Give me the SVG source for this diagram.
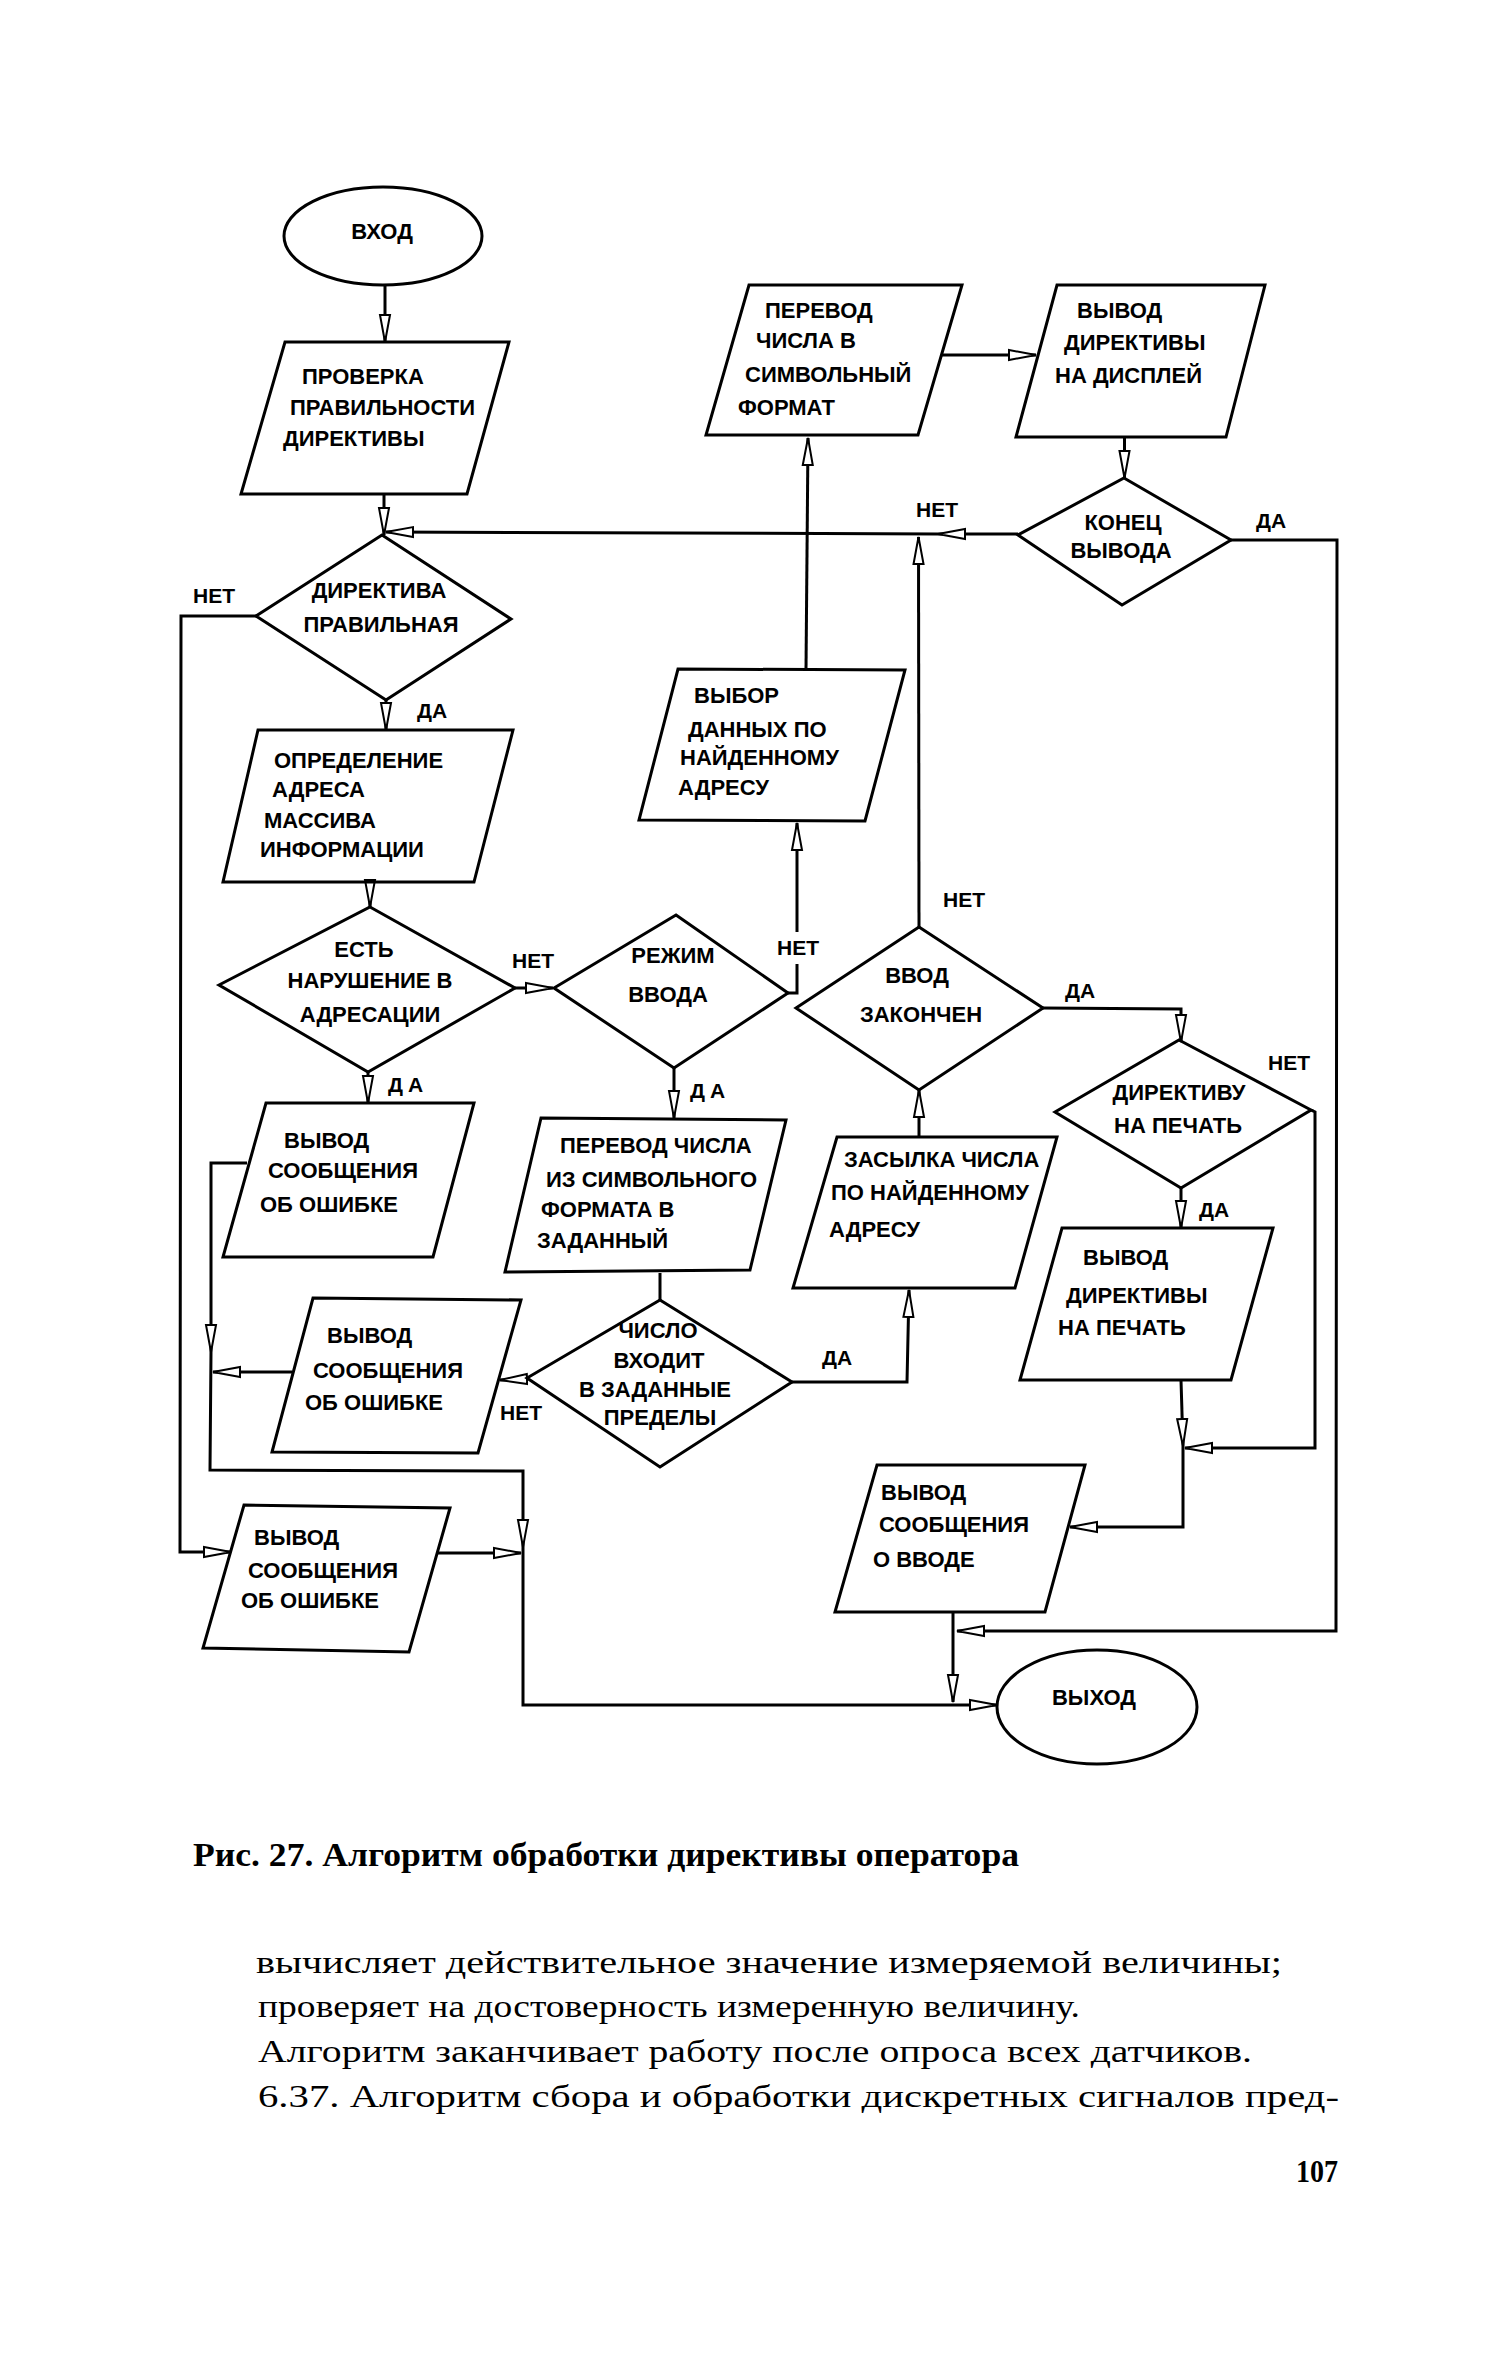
<svg xmlns="http://www.w3.org/2000/svg" width="1501" height="2363" viewBox="0 0 1501 2363">
<style>
.s{fill:none;stroke:#000;stroke-width:3;stroke-linejoin:miter}
.t{font-family:"Liberation Sans",Arial,sans-serif;font-weight:bold;font-size:22px;fill:#000}
.c{text-anchor:middle}
.l{font-family:"Liberation Sans",Arial,sans-serif;font-weight:bold;font-size:21px;fill:#000;text-anchor:middle}
.cap{font-family:"Liberation Serif","Times New Roman",serif;font-weight:bold;font-size:33px;fill:#000}
.b{font-family:"Liberation Serif","Times New Roman",serif;font-size:31px;fill:#000}
.a{fill:none;stroke:#000;stroke-width:3;marker-end:url(#ah)}
</style>
<defs>
<marker id="ah" markerUnits="userSpaceOnUse" markerWidth="32" markerHeight="14" refX="28" refY="7" orient="auto">
<path d="M1,2 L28,7 L1,12 Z" fill="#fff" stroke="#000" stroke-width="2"/>
</marker>
</defs>
<rect width="1501" height="2363" fill="#fff"/>

<g id="connectors">
<path class="a" d="M385,285 L385,342"/>
<path class="a" d="M384,494 L384,535"/>
<path class="a" d="M1018,534 L938,534"/>
<path class="a" d="M938,534 L386,532"/>
<path class="a" d="M919,927 L918.5,537"/>
<path class="a" d="M806,670 L808,438"/>
<path class="a" d="M942,355 L1036,355"/>
<path class="a" d="M1124.5,438 L1124.5,478"/>
<path class="a" d="M1231,540 L1337,540 L1336,1631 L957,1631"/>
<path class="a" d="M256,616 L181,616 L180,1552 L231,1552"/>
<path class="a" d="M386,700 L386,730"/>
<path class="a" d="M370,882 L370,907"/>
<path class="a" d="M515,988 L553,988"/>
<path class="s" d="M788,993 L797,993 L797,964"/>
<path class="a" d="M797,932 L797,823"/>
<path class="a" d="M674,1068 L674,1118"/>
<path class="a" d="M368,1072 L368,1103"/>
<path class="a" d="M247,1163 L211,1163 L211,1352"/>
<path class="a" d="M211,1352 L210,1470 L523,1471 L523,1547"/>
<path class="a" d="M523,1547 L523,1705 L997,1705"/>
<path class="a" d="M292,1372 L213,1372"/>
<path class="s" d="M660,1273 L660,1300"/>
<path class="a" d="M527,1379 L500,1380"/>
<path class="a" d="M792,1382 L907,1382 L909,1290"/>
<path class="a" d="M919,1137 L919,1090"/>
<path class="a" d="M1043,1008 L1181,1009 L1181,1042"/>
<path class="a" d="M1181,1188 L1181,1228"/>
<path class="a" d="M1311,1110 L1315,1112 L1315,1448 L1185,1448"/>
<path class="a" d="M1181,1380 L1183,1446"/>
<path class="a" d="M1183,1446 L1183,1527 L1070,1527"/>
<path class="a" d="M953,1612 L953,1702"/>
<path class="a" d="M437,1553 L521,1553"/>
</g>

<g id="labels">
<text class="l" x="214" y="603">НЕТ</text>
<text class="l" x="432" y="718">ДА</text>
<text class="l" x="533" y="968">НЕТ</text>
<text class="l" x="798" y="955">НЕТ</text>
<text class="l" x="408" y="1092" letter-spacing="5">ДА</text>
<text class="l" x="710" y="1098" letter-spacing="5">ДА</text>
<text class="l" x="964" y="907">НЕТ</text>
<text class="l" x="1080" y="998">ДА</text>
<text class="l" x="937" y="517">НЕТ</text>
<text class="l" x="1271" y="528">ДА</text>
<text class="l" x="1289" y="1070">НЕТ</text>
<text class="l" x="1214" y="1217">ДА</text>
<text class="l" x="521" y="1420">НЕТ</text>
<text class="l" x="837" y="1365">ДА</text>
</g>

<g id="n-vhod">
<ellipse class="s" cx="383" cy="236" rx="99" ry="49"/>
<text class="t c" x="382" y="239">ВХОД</text>
</g>
<g id="n-proverka">
<polygon class="s" points="285,342 509,342 467,494 241,494"/>
<text class="t" x="302" y="384">ПРОВЕРКА</text>
<text class="t" x="290" y="415">ПРАВИЛЬНОСТИ</text>
<text class="t" x="283" y="446">ДИРЕКТИВЫ</text>
</g>
<g id="n-dir-prav">
<polygon class="s" points="382,535 511,619 386,700 256,616"/>
<text class="t c" x="379" y="598">ДИРЕКТИВА</text>
<text class="t c" x="381" y="632">ПРАВИЛЬНАЯ</text>
</g>
<g id="n-opredelenie">
<polygon class="s" points="258,730 513,730 474,882 223,882"/>
<text class="t" x="274" y="768">ОПРЕДЕЛЕНИЕ</text>
<text class="t" x="272" y="797">АДРЕСА</text>
<text class="t" x="264" y="828">МАССИВА</text>
<text class="t" x="260" y="857">ИНФОРМАЦИИ</text>
</g>
<g id="n-narushenie">
<polygon class="s" points="370,907 515,988 368,1072 219,985"/>
<text class="t c" x="364" y="957">ЕСТЬ</text>
<text class="t c" x="370" y="988">НАРУШЕНИЕ В</text>
<text class="t c" x="370" y="1022">АДРЕСАЦИИ</text>
</g>
<g id="n-rezhim">
<polygon class="s" points="676,915 788,993 674,1068 554,988"/>
<text class="t c" x="673" y="963">РЕЖИМ</text>
<text class="t c" x="668" y="1002">ВВОДА</text>
</g>
<g id="n-vybor">
<polygon class="s" points="678,669 905,670 865,821 639,820"/>
<text class="t" x="694" y="703">ВЫБОР</text>
<text class="t" x="688" y="737">ДАННЫХ ПО</text>
<text class="t" x="680" y="765">НАЙДЕННОМУ</text>
<text class="t" x="678" y="795">АДРЕСУ</text>
</g>
<g id="n-perevod-simv">
<polygon class="s" points="749,285 962,285 918,435 706,435"/>
<text class="t" x="765" y="318">ПЕРЕВОД</text>
<text class="t" x="756" y="348">ЧИСЛА В</text>
<text class="t" x="745" y="382">СИМВОЛЬНЫЙ</text>
<text class="t" x="738" y="415">ФОРМАТ</text>
</g>
<g id="n-vyvod-displey">
<polygon class="s" points="1057,285 1265,285 1226,437 1016,437"/>
<text class="t" x="1077" y="318">ВЫВОД</text>
<text class="t" x="1064" y="350">ДИРЕКТИВЫ</text>
<text class="t" x="1055" y="383">НА ДИСПЛЕЙ</text>
</g>
<g id="n-konec">
<polygon class="s" points="1124,478 1231,540 1122,605 1018,535"/>
<text class="t c" x="1123" y="530">КОНЕЦ</text>
<text class="t c" x="1121" y="558">ВЫВОДА</text>
</g>
<g id="n-vvod-zakonchen">
<polygon class="s" points="919,927 1043,1008 919,1090 796,1008"/>
<text class="t c" x="917" y="983">ВВОД</text>
<text class="t c" x="921" y="1022">ЗАКОНЧЕН</text>
</g>
<g id="n-direktivu">
<polygon class="s" points="1179,1040 1311,1110 1181,1188 1055,1112"/>
<text class="t c" x="1179" y="1100">ДИРЕКТИВУ</text>
<text class="t c" x="1178" y="1133">НА ПЕЧАТЬ</text>
</g>
<g id="n-vyvod-pechat">
<polygon class="s" points="1062,1228 1273,1228 1231,1380 1020,1380"/>
<text class="t" x="1083" y="1265">ВЫВОД</text>
<text class="t" x="1066" y="1303">ДИРЕКТИВЫ</text>
<text class="t" x="1058" y="1335">НА ПЕЧАТЬ</text>
</g>
<g id="n-o-vvode">
<polygon class="s" points="877,1465 1085,1465 1045,1612 835,1612"/>
<text class="t" x="881" y="1500">ВЫВОД</text>
<text class="t" x="879" y="1532">СООБЩЕНИЯ</text>
<text class="t" x="873" y="1567">О ВВОДЕ</text>
</g>
<g id="n-vyhod">
<ellipse class="s" cx="1097" cy="1707" rx="100" ry="57"/>
<text class="t c" x="1094" y="1705">ВЫХОД</text>
</g>
<g id="n-oshibka1">
<polygon class="s" points="266,1103 474,1103 433,1257 223,1257"/>
<text class="t" x="284" y="1148">ВЫВОД</text>
<text class="t" x="268" y="1178">СООБЩЕНИЯ</text>
<text class="t" x="260" y="1212">ОБ ОШИБКЕ</text>
</g>
<g id="n-perevod-zad">
<polygon class="s" points="541,1118 786,1120 750,1270 505,1272"/>
<text class="t" x="560" y="1153">ПЕРЕВОД ЧИСЛА</text>
<text class="t" x="546" y="1187">ИЗ СИМВОЛЬНОГО</text>
<text class="t" x="541" y="1217">ФОРМАТА В</text>
<text class="t" x="537" y="1248">ЗАДАННЫЙ</text>
</g>
<g id="n-chislo">
<polygon class="s" points="660,1300 792,1382 660,1467 527,1378"/>
<text class="t c" x="658" y="1338">ЧИСЛО</text>
<text class="t c" x="659" y="1368">ВХОДИТ</text>
<text class="t c" x="655" y="1397">В ЗАДАННЫЕ</text>
<text class="t c" x="660" y="1425">ПРЕДЕЛЫ</text>
</g>
<g id="n-zasylka">
<polygon class="s" points="837,1137 1057,1137 1015,1288 793,1288"/>
<text class="t" x="844" y="1167">ЗАСЫЛКА ЧИСЛА</text>
<text class="t" x="831" y="1200">ПО НАЙДЕННОМУ</text>
<text class="t" x="829" y="1237">АДРЕСУ</text>
</g>
<g id="n-oshibka2">
<polygon class="s" points="313,1298 521,1300 478,1453 272,1452"/>
<text class="t" x="327" y="1343">ВЫВОД</text>
<text class="t" x="313" y="1378">СООБЩЕНИЯ</text>
<text class="t" x="305" y="1410">ОБ ОШИБКЕ</text>
</g>
<g id="n-oshibka3">
<polygon class="s" points="244,1505 450,1508 409,1652 203,1648"/>
<text class="t" x="254" y="1545">ВЫВОД</text>
<text class="t" x="248" y="1578">СООБЩЕНИЯ</text>
<text class="t" x="241" y="1608">ОБ ОШИБКЕ</text>
</g>

<g id="caption">
<text class="cap" x="193" y="1866" textLength="826" lengthAdjust="spacingAndGlyphs">Рис. 27. Алгоритм обработки директивы оператора</text>
</g>
<g id="body">
<text class="b" x="256" y="1973" textLength="1026" lengthAdjust="spacingAndGlyphs">вычисляет действительное значение измеряемой величины;</text>
<text class="b" x="258" y="2017" textLength="822" lengthAdjust="spacingAndGlyphs">проверяет на достоверность измеренную величину.</text>
<text class="b" x="258" y="2062" textLength="994" lengthAdjust="spacingAndGlyphs">Алгоритм заканчивает работу после опроса всех датчиков.</text>
<text class="b" x="258" y="2107" textLength="1081" lengthAdjust="spacingAndGlyphs">6.37. Алгоритм сбора и обработки дискретных  сигналов пред-</text>
<text class="b" x="1296" y="2182" font-weight="bold" textLength="42" lengthAdjust="spacingAndGlyphs">107</text>
</g>
</svg>
